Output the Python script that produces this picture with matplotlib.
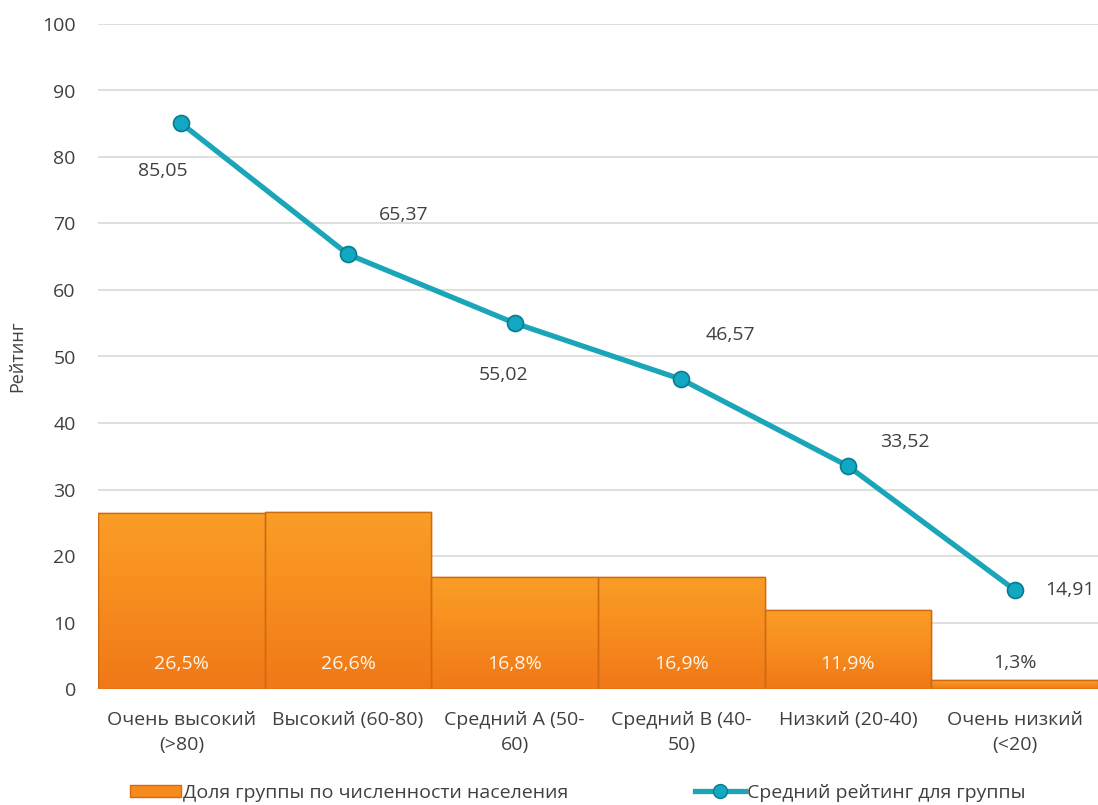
import matplotlib
matplotlib.use("Agg")
import matplotlib.pyplot as plt
import numpy as np
from matplotlib.colors import LinearSegmentedColormap
from matplotlib.patches import Patch
from matplotlib.lines import Line2D

categories = ["Очень высокий\n(>80)", "Высокий (60-80)", "Средний A (50-\n60)",
              "Средний B (40-\n50)", "Низкий (20-40)", "Очень низкий\n(<20)"]
share = [26.5, 26.6, 16.8, 16.9, 11.9, 1.3]
share_labels = ["26,5%", "26,6%", "16,8%", "16,9%", "11,9%", "1,3%"]
rating = [85.05, 65.37, 55.02, 46.57, 33.52, 14.91]
rating_labels = ["85,05", "65,37", "55,02", "46,57", "33,52", "14,91"]
yticks = [0, 10, 20, 30, 40, 50, 60, 70, 80, 90, 100]

plt.rcParams['font.family'] = ['Open Sans', 'DejaVu Sans']
txt = '#404040'
fs = 14

fig = plt.figure(figsize=(10.98, 8.05), dpi=100)
ax = fig.add_axes([98/1098, 116/805, 1000/1098, 665/805])
x = np.arange(len(categories))

ax.set_yticks(yticks)
ax.yaxis.grid(True, color='#d9d9d9', linewidth=1.2)
ax.set_axisbelow(True)
for s in ax.spines.values():
    s.set_visible(False)
ax.tick_params(axis='both', length=0, labelsize=fs, colors=txt)
ax.tick_params(axis='y', pad=16)
ax.set_xticks(x)
ax.set_xticklabels(categories, linespacing=1.5)
ax.tick_params(axis='x', pad=16)
ax.set_ylabel("Рейтинг", fontsize=fs - 1, color=txt)
ax.yaxis.set_label_coords(-72/1000, 0.5)

cmap = LinearSegmentedColormap.from_list('og', ['#f07818', '#f78c1e', '#fa9e26'])
bars = ax.bar(x, share, width=1.0, color='#f78c1c', edgecolor='#d9680c', linewidth=1.0, zorder=2)
grad = np.linspace(0, 1, 256).reshape(-1, 1)
for b in bars:
    bx, by = b.get_x(), b.get_y()
    w, h = b.get_width(), b.get_height()
    im = ax.imshow(grad, extent=[bx, bx + w, by, by + h], origin='lower', cmap=cmap,
                   aspect='auto', zorder=2.5)
    im.set_clip_path(b)
    ax.add_patch(plt.Rectangle((bx, by), w, h, fill=False, edgecolor='#cf6a12',
                               linewidth=1.0, zorder=2.6))
ax.set_xlim(-0.5, len(categories) - 0.5)
ax.set_ylim(0, 100)

for i, (v, lab) in enumerate(zip(share, share_labels)):
    if v > 5:
        ax.text(x[i], 3.7, lab, ha='center', va='center', color='#fff6ea', fontsize=fs, zorder=4)
    else:
        ax.text(x[i], v + 2.6, lab, ha='center', va='center', color=txt, fontsize=fs, zorder=4)

ax.plot(x, rating, color='#1aa6b8', linewidth=3.8, marker='o', markersize=11.5,
        markerfacecolor='#13a8c2', markeredgecolor='#0a7a8e', markeredgewidth=1.2, zorder=5)

offsets = [(-13, -34), (40, 28), (-8, -37), (35, 32), (41, 17), (40, 0)]
for i, (v, lab) in enumerate(zip(rating, rating_labels)):
    ax.annotate(lab, (x[i], v), xytext=offsets[i], textcoords='offset points',
                ha='center', va='center', fontsize=fs, color=txt, zorder=6)

handles = [Patch(facecolor='#f78c1c', edgecolor='#d9680c'),
           Line2D([0], [0], color='#1aa6b8', linewidth=3.8, marker='o', markersize=10,
                  markerfacecolor='#13a8c2', markeredgecolor='#0a7a8e')]
fig.legend(handles, ["Доля группы по численности населения", "Средний рейтинг для группы"],
           loc='center', bbox_to_anchor=(578/1098, 1 - 793/805), ncol=2, frameon=False,
           fontsize=fs, labelcolor=txt, columnspacing=6.5, handlelength=2.6,
           handletextpad=0.1, handleheight=0.6)

fig.savefig("out.png", dpi=100)
